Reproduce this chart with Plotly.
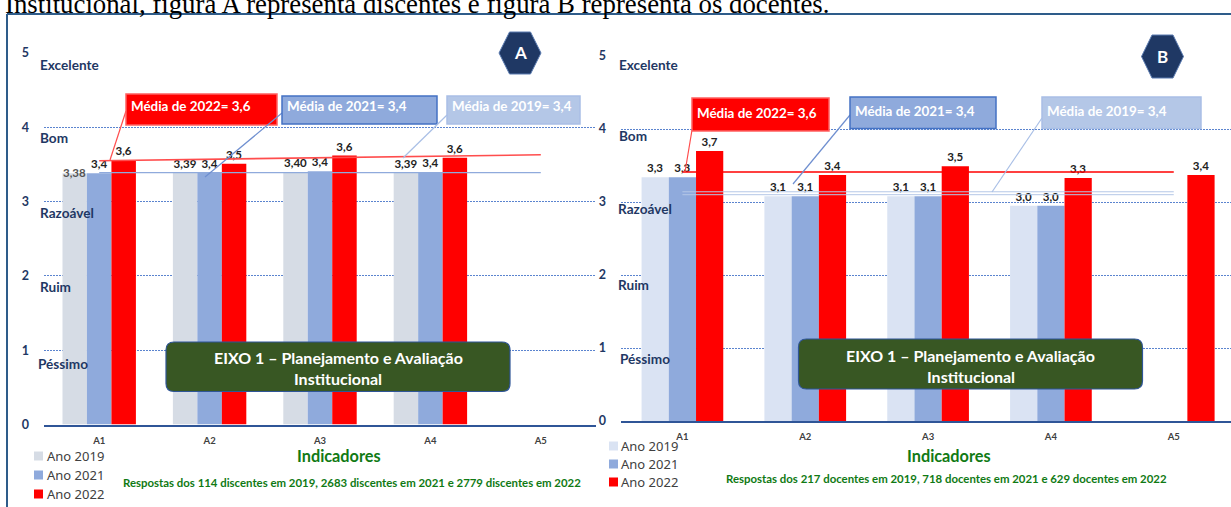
import plotly.graph_objects as go

W, H = 1231, 507
categories = ["A1", "A2", "A3", "A4", "A5"]

a_2019 = [3.38, 3.39, 3.40, 3.39, None]
a_2021 = [3.38, 3.39, 3.41, 3.40, None]
a_2022 = [3.56, 3.51, 3.62, 3.59, None]
a_lab_2019 = ["3,38", "3,39", "3,40", "3,39", ""]
a_lab_2021 = ["3,4", "3,4", "3,4", "3,4", ""]
a_lab_2022 = ["3,6", "3,5", "3,6", "3,6", ""]
a_mean_2022 = [3.55, 3.63]
a_mean_2021 = [3.39, 3.39]

b_2019 = [3.34, 3.08, 3.08, 2.95, None]
b_2021 = [3.34, 3.08, 3.08, 2.95, None]
b_2022 = [3.70, 3.37, 3.49, 3.33, 3.37]
b_lab_2019 = ["3,3", "3,1", "3,1", "3,0", ""]
b_lab_2021 = ["3,3", "3,1", "3,1", "3,0", ""]
b_lab_2022 = ["3,7", "3,4", "3,5", "3,3", "3,4"]
b_mean_2022 = [3.41, 3.41]
b_mean_2021 = [3.14, 3.14]
b_mean_2019 = [3.10, 3.10]

mean_ends = ["A1", "A5"]
y_ticks = [0, 1, 2, 3, 4, 5]
quality = ["Excelente", "Bom", "Razoável", "Ruim", "Péssimo"]
legend_names = ["Ano 2019", "Ano 2021", "Ano 2022"]
caption = "Institucional, figura A representa discentes e figura B representa os docentes."

NAVY = "#1f3864"
BLUE = "#8faadc"
LIGHT = "#b4c7e7"
RED = "#ff0000"
GREEN = "#107a14"
FONT = "Lato"


def px(x):
    return x / W


def py(y):
    return 1 - y / H


fig = go.Figure()


def bars(name, y, text, color, xa, ya):
    fig.add_bar(
        x=categories, y=y, name=name, text=text, marker_color=color, marker_line_width=0,
        textposition="outside", cliponaxis=False, constraintext="none",
        textfont=dict(family=FONT, size=11.5, color="#222222", weight=700),
        xaxis=xa, yaxis=ya, showlegend=False,
    )


def mean_line(y, color, width, xa, ya):
    fig.add_scatter(x=mean_ends, y=y, mode="lines", line=dict(color=color, width=width),
                    xaxis=xa, yaxis=ya, showlegend=False, hoverinfo="skip")


bars("Ano 2019", a_2019, [""] + a_lab_2019[1:], "#d6dce5", "x", "y")
bars("Ano 2021", a_2021, a_lab_2021, BLUE, "x", "y")
bars("Ano 2022", a_2022, a_lab_2022, RED, "x", "y")
mean_line(a_mean_2022, "#ff4d4d", 1.6, "x", "y")
mean_line(a_mean_2021, BLUE, 1.3, "x", "y")

bars("Ano 2019", b_2019, b_lab_2019, "#dae3f3", "x2", "y2")
bars("Ano 2021", b_2021, b_lab_2021, BLUE, "x2", "y2")
bars("Ano 2022", b_2022, b_lab_2022, RED, "x2", "y2")
mean_line(b_mean_2022, RED, 1.4, "x2", "y2")
mean_line(b_mean_2021, LIGHT, 1, "x2", "y2")
mean_line(b_mean_2019, LIGHT, 1, "x2", "y2")

shapes = []
ann = []


def line(x0, y0, x1, y1, color, width=1.2):
    shapes.append(dict(type="line", xref="paper", yref="paper", x0=px(x0), y0=py(y0), x1=px(x1), y1=py(y1),
                       line=dict(color=color, width=width)))


def text(x, y, s, size, color, weight=700, family=FONT, anchor="center"):
    ann.append(dict(xref="paper", yref="paper", x=px(x), y=py(y), text=s, showarrow=False,
                    xanchor=anchor, yanchor="middle", align="center",
                    font=dict(family=family, size=size, color=color, weight=weight)))


def callout(x0, y0, x1, y1, s, fill, border, tail, text_y, leader):
    line(tail[0], tail[1], x0, tail[2], leader)
    shapes.append(dict(type="rect", xref="paper", yref="paper", x0=px(x0), y0=py(y0), x1=px(x1), y1=py(y1),
                       fillcolor=fill, line=dict(color=border, width=1.5)))
    text(x0 + 3, text_y, s, 13.4, "#ffffff", anchor="left")


def round_box(x0, y0, x1, y1, r, lines, centre, y_lines):
    l, t, ri, b = px(x0), py(y0), px(x1), py(y1)
    rx, ry = r / W, r / H
    path = (f"M {l+rx},{t} L {ri-rx},{t} Q {ri},{t} {ri},{t-ry} L {ri},{b+ry} Q {ri},{b} {ri-rx},{b} "
            f"L {l+rx},{b} Q {l},{b} {l},{b+ry} L {l},{t-ry} Q {l},{t} {l+rx},{t} Z")
    shapes.append(dict(type="path", xref="paper", yref="paper", path=path, fillcolor="#385723",
                       line=dict(color="#2f5597", width=1.2)))
    for s, yy in zip(lines, y_lines):
        text(centre, yy, s, 16, "#ffffff")


def hexagon(cx, cy, hw, hh, letter):
    l, ri, t, b = px(cx - hw), px(cx + hw), py(cy - hh), py(cy + hh)
    il, ir = px(cx - hw * 0.5), px(cx + hw * 0.5)
    mid = py(cy)
    shapes.append(dict(type="path", xref="paper", yref="paper",
                       path=f"M {il},{t} L {ir},{t} L {ri},{mid} L {ir},{b} L {il},{b} L {l},{mid} Z",
                       fillcolor=NAVY, line=dict(color="#5b7bb0", width=1)))
    text(cx, cy, letter, 17, "#ffffff")


def legend_block(sq_x, txt_x, ys, colors):
    for name, yy, c in zip(legend_names, ys, colors):
        shapes.append(dict(type="rect", xref="paper", yref="paper", x0=px(sq_x), x1=px(sq_x + 9),
                           y0=py(yy - 4.5), y1=py(yy + 4.5), fillcolor=c, line_width=0))
        text(txt_x, yy, name, 13, "#404040", weight=400, family="Noto Sans", anchor="left")


# frame and clipped caption (a shape label, which does not push the margins as an annotation would)
line(7, 14, 7, 507, "#2e5c8a", 2)
line(7, 14, 1231, 14, "#2e5c8a", 2)
shapes.append(dict(type="rect", xref="paper", yref="paper", x0=px(0), x1=px(900), y0=py(-12), y1=py(14),
                   line_width=0, fillcolor="rgba(0,0,0,0)",
                   label=dict(text=caption, textposition="middle left", padding=2,
                              font=dict(family="Liberation Serif", size=26.8, color="#000000"))))

# panel A furniture
callout(126, 94, 277, 125, "Média de 2022= 3,6", RED, "#ff6060", (110, 160, 111), 106, "#ff4d4d")
callout(282, 96, 437, 124, "Média de 2021= 3,4", BLUE, "#4472c4", (205, 177, 113), 106, "#6f8fd0")
callout(447, 96, 580, 124, "Média de 2019= 3,4", LIGHT, "#a9bfe6", (403, 158, 115), 106, "#a9bfe6")
hexagon(520, 53, 21, 21, "A")
round_box(166, 342, 510, 391.5, 8, ["EIXO 1 – Planejamento e Avaliação", "Institucional"], 338, [357, 378])
text(339, 455, "Indicadores", 16.3, GREEN)
text(352, 482, "Respostas dos 114 discentes em 2019, 2683 discentes em 2021 e 2779 discentes em 2022", 11.4, GREEN)
legend_block(34, 45, [456, 475, 494], ["#d6dce5", BLUE, RED])
for s, x, y in zip(quality, [38, 38, 38, 38, 36], [65, 138, 213, 287, 364]):
    text(x, y, s, 13.6, NAVY, anchor="left")
ann.append(dict(xref="x", yref="y", x="A1", y=a_2019[0], xshift=-25, yshift=1, text=a_lab_2019[0], showarrow=False,
                font=dict(family=FONT, size=11.5, color="#555555", weight=700)))

# panel B furniture
callout(692, 98, 829, 131, "Média de 2022= 3,6", RED, "#ff6060", (685, 172, 130), 113, "#ff4d4d")
callout(850, 97, 996, 128.5, "Média de 2021= 3,4", BLUE, "#4472c4", (793, 184, 115), 111, "#6f8fd0")
callout(1042, 97, 1201, 128.5, "Média de 2019= 3,4", LIGHT, "#a9bfe6", (992, 192, 118), 111, "#a9bfe6")
hexagon(1162.5, 56.5, 21, 21.5, "B")
round_box(798.5, 339, 1142.5, 389, 8, ["EIXO 1 – Planejamento e Avaliação", "Institucional"], 970.5, [355, 376])
text(949, 455, "Indicadores", 16.3, GREEN)
text(946, 478, "Respostas dos 217 docentes em 2019, 718 docentes em 2021 e 629 docentes em 2022", 11.4, GREEN)
legend_block(609, 619, [446, 464, 482], ["#dae3f3", BLUE, RED])
for s, x, y in zip(quality, [617, 617, 616, 616, 618], [65, 136, 209, 285, 359]):
    text(x, y, s, 13.6, NAVY, anchor="left")

grid = dict(showgrid=True, gridcolor="#5b84cf", griddash="2px,1px", gridwidth=1, zeroline=False, range=[0, 5],
            tickvals=y_ticks, ticks="", showline=False, ticklabelstandoff=14, automargin=False,
            tickfont=dict(family=FONT, size=12.5, color=NAVY, weight=700))
xax = dict(type="category", categoryorder="array", categoryarray=categories, showgrid=False, zeroline=False,
           showline=True, linecolor="#2f5597", linewidth=1.5, ticks="", ticklabelstandoff=6, automargin=False,
           tickfont=dict(family=FONT, size=9.5, color="#404040", weight=700))

fig.update_layout(
    width=W, height=H, margin=dict(l=0, r=0, t=0, b=0), autosize=False,
    paper_bgcolor="#ffffff", plot_bgcolor="#ffffff",
    barmode="group", bargap=0.335, bargroupgap=0, showlegend=False, hovermode=False,
    xaxis=dict(xax, domain=[px(44), px(596)], range=[-0.5, 4.5], anchor="y"),
    yaxis=dict(grid, domain=[py(424.5), py(53)], anchor="x"),
    xaxis2=dict(xax, domain=[px(621), 1], range=[-0.5, 4.466], anchor="y2"),
    yaxis2=dict(grid, domain=[py(421), py(56)], anchor="x2"),
    shapes=shapes, annotations=ann,
)

fig.write_html("out.html", config={"displayModeBar": False},
               post_script="document.body.style.margin='0';document.body.style.overflow='hidden';")
